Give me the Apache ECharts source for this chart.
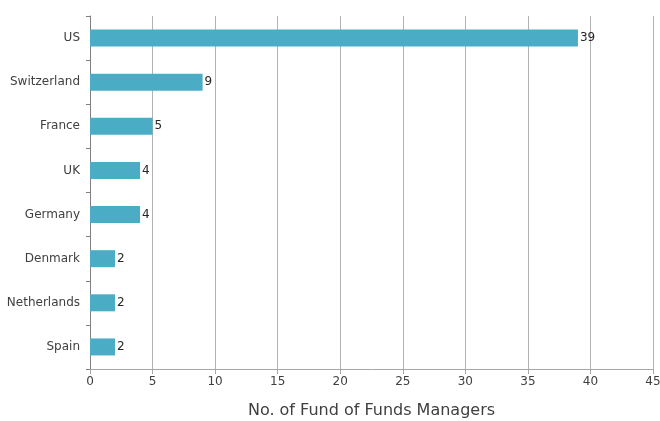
<!DOCTYPE html>
<html>
<head>
<meta charset="utf-8">
<script src="https://cdn.jsdelivr.net/npm/echarts@6/dist/echarts.min.js"></script>
<style>
  html, body { margin: 0; padding: 0; background: #fff; }
  #chart { width: 660px; height: 421px; }
</style>
</head>
<body>
<div id="chart"></div>
<script>
var countries = ['US', 'Switzerland', 'France', 'UK', 'Germany', 'Denmark', 'Netherlands', 'Spain'];
var managers = [39, 9, 5, 4, 4, 2, 2, 2];
var axisTitle = 'No. of Fund of Funds Managers';

var font = "'DejaVu Sans', sans-serif";

var option = {
	animation: false,
	grid: {
		top: 16,
		right: 7,
		bottom: 52,
		left: 90,
		outerBoundsMode: 'none'
	},
	xAxis: {
		type: 'value',
		min: 0,
		max: 45,
		interval: 5,
		name: axisTitle,
		nameLocation: 'middle',
		nameGap: 34,
		nameTextStyle: {
			fontSize: 16,
			color: '#404040',
			fontFamily: font
		},
		axisLine: {
			show: true,
			lineStyle: { color: '#a6a6a6', width: 1 }
		},
		axisTick: {
			show: true,
			length: 5,
			lineStyle: { color: '#a6a6a6' }
		},
		splitLine: {
			lineStyle: { color: '#b3b3b3', width: 1 }
		},
		axisLabel: {
			fontSize: 12,
			color: '#404040',
			margin: 7,
			fontFamily: font
		}
	},
	yAxis: {
		type: 'category',
		inverse: true,
		data: countries,
		axisLine: {
			lineStyle: { color: '#808080', width: 1 }
		},
		axisTick: {
			show: true,
			length: 4,
			lineStyle: { color: '#808080' }
		},
		axisLabel: {
			fontSize: 12,
			color: '#404040',
			margin: 10,
			fontFamily: font
		}
	},
	series: [{
		type: 'bar',
		data: managers,
		barWidth: 17,
		itemStyle: { color: '#4bacc6' },
		label: {
			show: true,
			position: 'right',
			distance: 2,
			fontSize: 12,
			color: '#262626',
			fontFamily: font
		}
	}]
};

var chart = echarts.init(document.getElementById('chart'));
chart.setOption(option);
</script>
</body>
</html>
